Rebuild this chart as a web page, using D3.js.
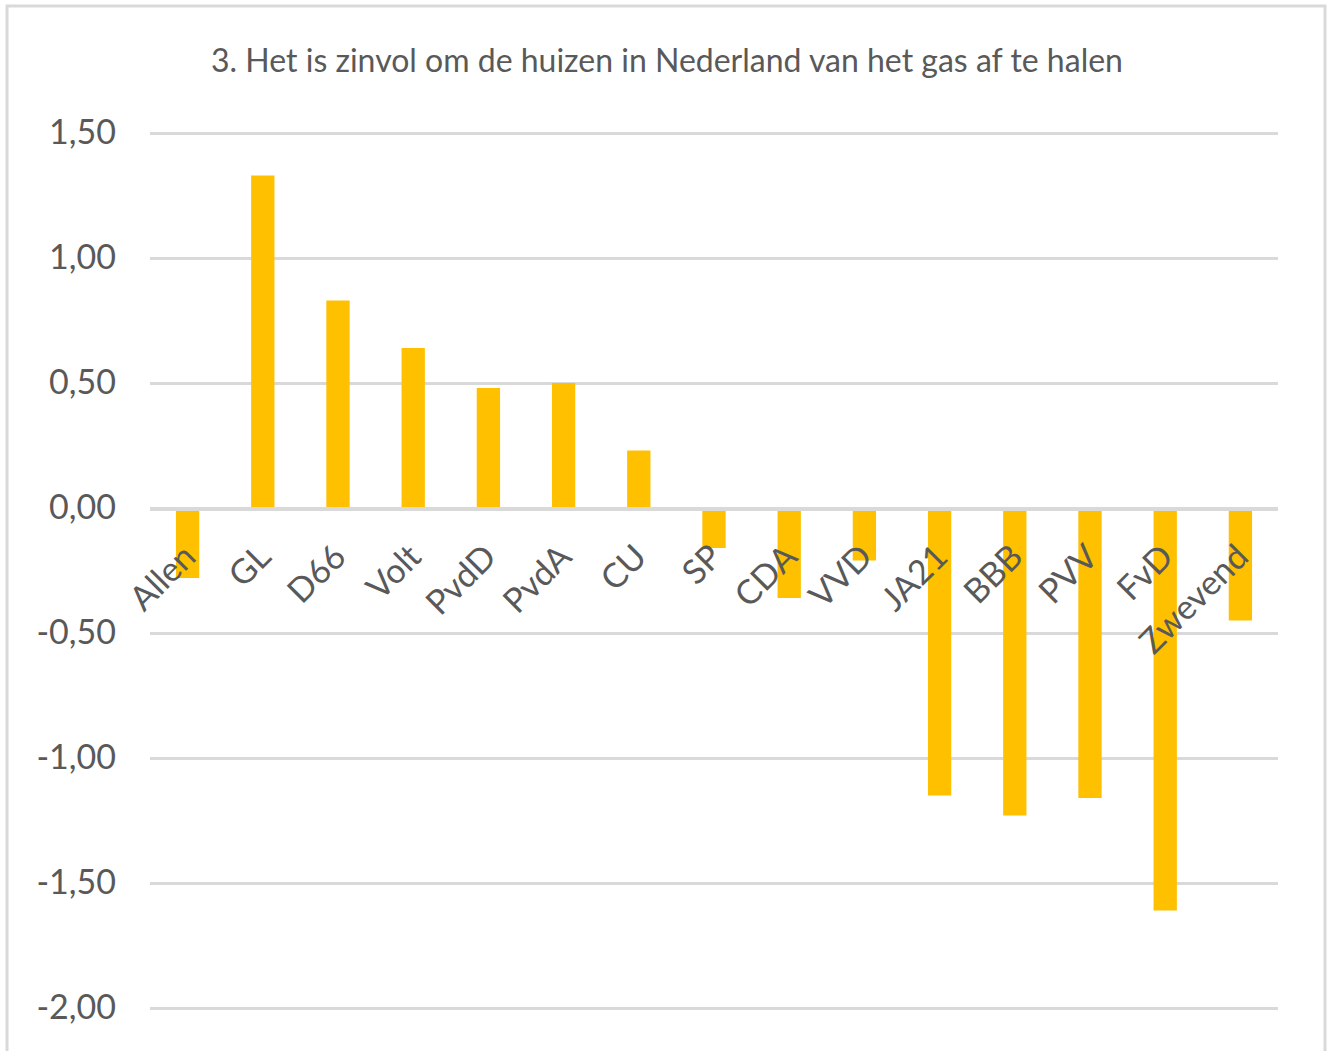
<!DOCTYPE html>
<html>
<head>
<meta charset="utf-8">
<script src="https://cdn.jsdelivr.net/npm/d3@7"></script>
<style>
  body { margin: 0; background: #fff; }
  svg { display: block; }
</style>
</head>
<body>
<svg id="chart"></svg>
<script>
// data
const title = '3. Het is zinvol om de huizen in Nederland van het gas af te halen';
const categories = ['Allen', 'GL', 'D66', 'Volt', 'PvdD', 'PvdA', 'CU', 'SP', 'CDA', 'VVD', 'JA21', 'BBB', 'PVV', 'FvD', 'Zwevend'];
const values = [-0.28, 1.33, 0.83, 0.64, 0.48, 0.50, 0.23, -0.16, -0.36, -0.21, -1.15, -1.23, -1.16, -1.61, -0.45];
const yTicks = [1.5, 1.0, 0.5, 0, -0.5, -1.0, -1.5, -2.0];

const fullW = 1328, fullH = 1051;
const plot = { left: 150, right: 1278, top: 133, bottom: 1008 };
const font = 'Lato, "Open Sans", sans-serif';
const textCol = '#595959';
const gridCol = '#d9d9d9';

const svg = d3.select('#chart')
  .attr('width', fullW)
  .attr('height', fullH)
  .style('font-family', font);

svg.append('rect')
  .attr('width', fullW).attr('height', fullH)
  .attr('fill', '#fff');

// outer chart border (bottom edge is cropped in the picture)
svg.append('rect')
  .attr('x', 7).attr('y', 6)
  .attr('width', 1318).attr('height', 1070)
  .attr('fill', 'none')
  .attr('stroke', gridCol)
  .attr('stroke-width', 3);

const x = d3.scaleBand()
  .domain(categories)
  .range([plot.left, plot.right]);

const y = d3.scaleLinear()
  .domain([-2, 1.5])
  .range([plot.bottom, plot.top]);

const fmt = d => d3.format('.2f')(d).replace('.', ',').replace('−', '-');

// gridlines + tick labels
const yAxis = svg.append('g')
  .attr('transform', `translate(${plot.left},0)`)
  .call(d3.axisLeft(y)
    .tickValues(yTicks)
    .tickSize(-(plot.right - plot.left))
    .tickPadding(34)
    .tickFormat(fmt));
yAxis.select('.domain').remove();
yAxis.selectAll('line')
  .attr('stroke', gridCol)
  .attr('stroke-width', 3);
yAxis.selectAll('text')
  .attr('fill', textCol)
  .attr('font-size', '34px')
  .attr('font-family', font);

// bars
const barW = x.bandwidth() * 0.31;
svg.append('g')
  .selectAll('rect')
  .data(values)
  .join('rect')
    .attr('x', (d, i) => x(categories[i]) + x.bandwidth() / 2 - barW / 2)
    .attr('y', d => d >= 0 ? y(d) : y(0))
    .attr('width', barW)
    .attr('height', d => Math.abs(y(d) - y(0)))
    .attr('fill', '#ffc000');

// zero line drawn over the bars
svg.append('line')
  .attr('x1', plot.left).attr('x2', plot.right)
  .attr('y1', y(0) + 1).attr('y2', y(0) + 1)
  .attr('stroke', gridCol)
  .attr('stroke-width', 4);

// category labels, rotated -45
svg.append('g')
  .selectAll('text')
  .data(categories)
  .join('text')
    .attr('transform', d => `translate(${x(d) + x.bandwidth() / 2 + 10},559) rotate(-45)`)
    .attr('text-anchor', 'end')
    .attr('font-size', '34px')
    .attr('fill', textCol)
    .text(d => d);

// title
svg.append('text')
  .attr('x', 667)
  .attr('y', 72)
  .attr('text-anchor', 'middle')
  .attr('font-size', '32px')
  .attr('fill', textCol)
  .text(title);
</script>
</body>
</html>
